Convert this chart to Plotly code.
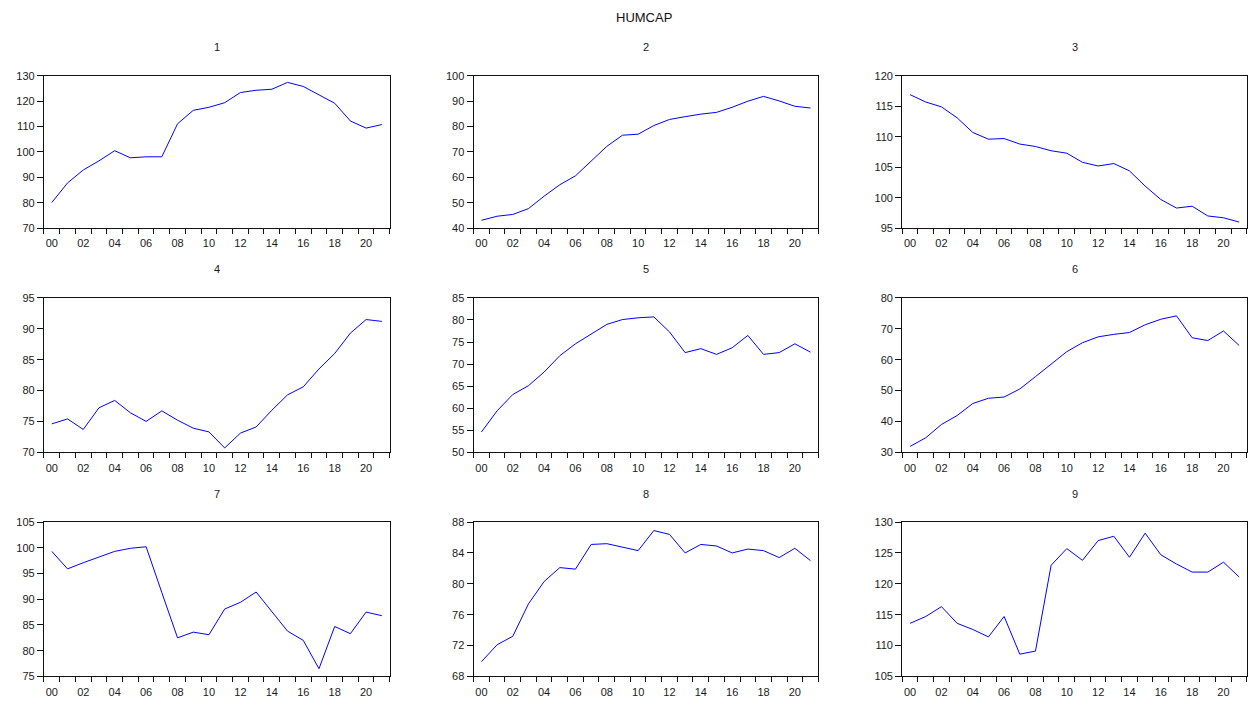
import plotly.graph_objects as go

years = list(range(22))
year_labels = ["00", "02", "04", "06", "08", "10", "12", "14", "16", "18", "20"]
label_positions = [0, 2, 4, 6, 8, 10, 12, 14, 16, 18, 20]

panel_titles = ["1", "2", "3", "4", "5", "6", "7", "8", "9"]

s1 = [80.1, 87.8, 92.9, 96.5, 100.5, 97.7, 98.1, 98.1, 111.1, 116.4, 117.6, 119.4,
      123.4, 124.3, 124.7, 127.4, 125.8, 122.5, 119.2, 112.2, 109.4, 110.8]
s2 = [43.1, 44.7, 45.4, 47.7, 52.6, 57.1, 60.6, 66.4, 72.2, 76.6, 77.0, 80.4,
      82.8, 83.9, 84.9, 85.6, 87.6, 90.0, 91.9, 90.1, 88.0, 87.3]
s3 = [116.9, 115.7, 114.9, 113.1, 110.7, 109.6, 109.7, 108.8, 108.4, 107.7, 107.3, 105.8,
      105.2, 105.6, 104.4, 101.9, 99.7, 98.3, 98.6, 97.0, 96.7, 96.0]
s4 = [74.6, 75.4, 73.7, 77.2, 78.4, 76.4, 75.0, 76.7, 75.2, 73.9, 73.3, 70.7,
      73.1, 74.1, 76.8, 79.3, 80.6, 83.5, 86.0, 89.3, 91.5, 91.2]
s5 = [54.6, 59.4, 63.1, 65.1, 68.2, 71.9, 74.6, 76.9, 79.0, 80.1, 80.5, 80.7,
      77.3, 72.6, 73.5, 72.2, 73.7, 76.5, 72.2, 72.6, 74.6, 72.7]
s6 = [31.9, 34.7, 39.0, 41.9, 45.8, 47.5, 47.9, 50.5, 54.5, 58.7, 62.6, 65.5,
      67.4, 68.2, 68.8, 71.3, 73.1, 74.2, 67.1, 66.2, 69.3, 64.6]
s7 = [99.3, 95.9, 97.1, 98.2, 99.3, 99.9, 100.2, 91.3, 82.5, 83.6, 83.1, 88.1,
      89.4, 91.4, 87.5, 83.8, 82.0, 76.5, 84.7, 83.3, 87.5, 86.8]
s8 = [69.9, 72.1, 73.2, 77.4, 80.3, 82.1, 81.9, 85.1, 85.2, 84.7, 84.3, 86.9,
      86.4, 84.0, 85.1, 84.9, 84.0, 84.5, 84.3, 83.4, 84.6, 83.0]
s9 = [113.6, 114.7, 116.3, 113.6, 112.6, 111.4, 114.7, 108.6, 109.1, 123.0, 125.7, 123.8,
      127.0, 127.7, 124.3, 128.2, 124.7, 123.2, 121.9, 121.9, 123.5, 121.1]

series = [s1, s2, s3, s4, s5, s6, s7, s8, s9]

y_ranges = [(70, 130), (40, 100), (95, 120), (70, 95), (50, 85), (30, 80), (75, 105), (68, 88), (105, 130)]
y_dticks = [10, 10, 5, 5, 5, 10, 5, 4, 5]

W, H = 1248, 705
col_px = [(44, 390), (474, 819), (903, 1248)]
row_px = [(71, 226), (297, 454), (525, 682)]

FONT = "Liberation Sans, Arial, sans-serif"
TXT = "#1a1a1a"

fig = go.Figure()
layout = dict(
    width=W, height=H,
    margin=dict(l=0, r=0, t=0, b=0),
    paper_bgcolor="white", plot_bgcolor="white",
    showlegend=False,
    font=dict(family=FONT, size=11, color=TXT),
)
annotations = [dict(text="HUMCAP", x=645 / W, y=1 - 12 / H, xref="paper", yref="paper",
                    showarrow=False, font=dict(size=13, family=FONT, color="#111111"),
                    xanchor="center", yanchor="middle")]

for k in range(9):
    r, c = divmod(k, 3)
    ax = "" if k == 0 else str(k + 1)
    x0, x1 = col_px[c]
    yt, yb = row_px[r]
    fig.add_trace(go.Scatter(x=years, y=series[k], mode="lines",
                             line=dict(color="#0000FF", width=1),
                             xaxis="x" + ax, yaxis="y" + ax, hoverinfo="skip"))
    layout["xaxis" + ax] = dict(
        domain=[x0 / W, x1 / W], anchor="y" + ax,
        range=[-0.5, 21.5], tickmode="array", tickvals=label_positions, ticktext=year_labels,
        ticks="", showgrid=False, zeroline=False,
        showline=True, linecolor="#111111", linewidth=1.2, mirror=True,
        tickfont=dict(size=11, family=FONT, color=TXT),
        ticklabelstandoff=5,
        minor=dict(tickmode="linear", tick0=-0.5, dtick=1, ticks="outside", ticklen=5,
                   tickcolor="#111111", tickwidth=1, showgrid=False),
    )
    layout["yaxis" + ax] = dict(
        domain=[1 - yb / H, 1 - yt / H], anchor="x" + ax,
        range=list(y_ranges[k]), tickmode="linear", tick0=y_ranges[k][0], dtick=y_dticks[k],
        ticks="outside", ticklen=6, tickcolor="#111111", tickwidth=1,
        showgrid=False, zeroline=False,
        showline=True, linecolor="#111111", linewidth=1.2, mirror=True,
        tickfont=dict(size=11, family=FONT, color=TXT),
    )
    annotations.append(dict(text=panel_titles[k], x=(x0 + x1) / 2 / W, y=1 - (yt - 29) / H,
                            xref="paper", yref="paper", showarrow=False,
                            font=dict(size=11, family=FONT, color=TXT),
                            xanchor="center", yanchor="middle"))

layout["annotations"] = annotations
fig.update_layout(**layout)
fig.write_html("out.html", config={"displayModeBar": False},
               post_script="document.body.style.margin='0px';document.body.style.overflow='hidden';")
